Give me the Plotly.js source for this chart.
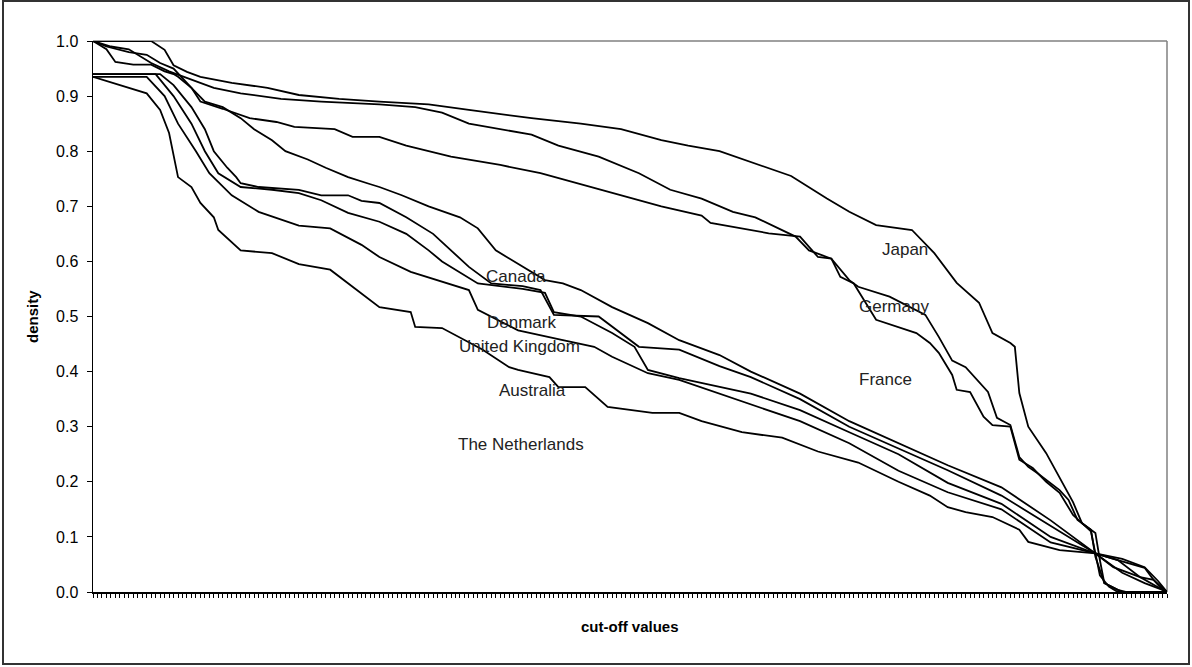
<!DOCTYPE html>
<html><head><meta charset="utf-8">
<script src="https://cdn.plot.ly/plotly-3.0.1.min.js"></script>
<style>
html,body{margin:0;padding:0;background:#fff;}
#chart{position:absolute;left:0;top:0;width:1192px;height:667px;}
#frame{position:absolute;left:2px;top:0px;width:1188px;height:665px;border:2px solid #333;box-sizing:border-box;pointer-events:none;}
</style>
</head><body>
<div id="chart"></div><div id="frame"></div>
<script>
// number of cut-off categories on the x axis (ticks)
const lastCategory = 240;
const yTicks = [0,0.1,0.2,0.3,0.4,0.5,0.6,0.7,0.8,0.9,1.0];

// breakpoints: category index and density
const japanX = [0,13,16,18,21,24,31,39,46,55,64,75,84,98,109,118,127,133,140,147,156,164,169,175,183,188,193,198,201,205,206,207,209,213,219,221,224,225,226,229,230,240];
const japanY = [1.0,1.0,0.984,0.956,0.944,0.935,0.924,0.915,0.902,0.895,0.89,0.885,0.875,0.86,0.85,0.84,0.82,0.81,0.80,0.78,0.755,0.714,0.69,0.666,0.657,0.615,0.561,0.525,0.47,0.452,0.445,0.361,0.30,0.252,0.163,0.125,0.107,0.058,0.016,0.004,0,0];

const germanyX = [0,4,8,13,17,22,27,33,42,51,64,72,78,84,91,98,104,113,122,129,136,143,148,157,160,165,169,171,178,186,189,192,195,198,200,202,205,207,209,211,214,216,218,220,223,224,226,229,231,240];
const germanyY = [1.0,0.99,0.985,0.96,0.945,0.93,0.915,0.905,0.895,0.89,0.885,0.88,0.87,0.85,0.84,0.83,0.81,0.79,0.76,0.73,0.714,0.69,0.68,0.645,0.62,0.605,0.566,0.554,0.536,0.503,0.463,0.42,0.408,0.381,0.363,0.316,0.303,0.245,0.227,0.216,0.198,0.185,0.167,0.131,0.113,0.064,0.016,0.004,0,0];

const franceX = [0,3,8,12,15,18,22,24,29,33,35,41,45,54,58,64,70,80,91,100,109,118,127,136,138,151,158,162,165,167,170,175,180,184,187,189,192,193,196,199,201,205,207,210,213,216,219,223,224,225,227,229,240];
const franceY = [1.0,0.99,0.98,0.975,0.96,0.95,0.915,0.89,0.877,0.865,0.86,0.853,0.844,0.84,0.826,0.826,0.81,0.79,0.775,0.76,0.74,0.72,0.70,0.683,0.67,0.651,0.645,0.608,0.605,0.572,0.56,0.494,0.481,0.47,0.452,0.434,0.394,0.367,0.363,0.318,0.303,0.30,0.24,0.225,0.20,0.18,0.14,0.11,0.07,0.03,0.01,0,0];

const canadaX = [0,3,5,9,13,16,18,19,22,25,29,33,36,40,43,48,52,57,62,64,69,75,82,86,90,95,101,105,109,116,124,131,140,147,158,169,180,191,203,214,224,230,235,238,240];
const canadaY = [1.0,0.985,0.962,0.957,0.957,0.945,0.94,0.935,0.915,0.89,0.88,0.86,0.84,0.82,0.80,0.785,0.77,0.753,0.74,0.735,0.72,0.70,0.68,0.66,0.62,0.595,0.566,0.56,0.548,0.517,0.488,0.457,0.43,0.40,0.36,0.31,0.27,0.23,0.19,0.13,0.07,0.06,0.045,0.02,0];

const denmarkX = [0,15,18,22,25,27,30,32,33,37,46,51,57,60,64,70,76,80,84,89,96,100,103,113,118,122,131,140,147,158,169,180,191,203,214,224,229,235,237,240];
const denmarkY = [0.94,0.94,0.92,0.88,0.84,0.80,0.77,0.753,0.742,0.735,0.73,0.72,0.72,0.71,0.706,0.68,0.65,0.62,0.59,0.56,0.555,0.548,0.503,0.50,0.47,0.445,0.44,0.41,0.39,0.35,0.30,0.26,0.221,0.175,0.12,0.07,0.058,0.044,0.022,0];

const ukX = [0,14,18,22,25,28,33,40,46,51,57,64,70,75,78,86,96,101,103,109,116,121,124,131,147,158,169,180,191,203,214,224,230,235,239,240];
const ukY = [0.94,0.94,0.90,0.85,0.80,0.76,0.735,0.73,0.724,0.711,0.688,0.672,0.65,0.62,0.60,0.56,0.55,0.543,0.508,0.50,0.47,0.445,0.403,0.388,0.36,0.33,0.29,0.25,0.198,0.16,0.10,0.07,0.035,0.016,0.004,0];

const australiaX = [0,12,16,19,23,26,31,37,46,53,60,64,71,78,84,86,95,105,112,116,124,131,147,158,169,180,191,203,214,224,228,234,239,240];
const australiaY = [0.935,0.935,0.90,0.85,0.80,0.76,0.72,0.69,0.665,0.66,0.63,0.608,0.581,0.563,0.548,0.512,0.475,0.457,0.445,0.427,0.397,0.385,0.34,0.31,0.27,0.22,0.181,0.15,0.09,0.07,0.045,0.027,0.004,0];

const netherlandsX = [0,4,8,12,15,17,19,22,24,27,28,33,40,46,53,57,64,71,72,78,87,93,95,102,104,110,115,125,131,136,145,154,162,171,180,187,191,195,201,207,209,216,224,229,234,237,239,240];
const netherlandsY = [0.935,0.925,0.915,0.905,0.875,0.833,0.753,0.735,0.706,0.68,0.657,0.62,0.615,0.595,0.585,0.56,0.517,0.508,0.481,0.479,0.44,0.408,0.403,0.39,0.372,0.372,0.336,0.325,0.325,0.31,0.29,0.28,0.255,0.235,0.20,0.175,0.154,0.145,0.136,0.113,0.091,0.076,0.07,0.058,0.027,0.022,0.004,0];

// country labels and where they sit (category index, density)
const labelNames = ["Japan","Germany","France","Canada","Denmark","United Kingdom","Australia","The Netherlands"];
const labelX = [181.5,179,177.2,94.5,95.7,95.2,98.1,95.7];
const labelY = [0.622,0.519,0.385,0.572,0.49,0.445,0.365,0.267];

const seriesList = [
  ["Japan",japanX,japanY],["Germany",germanyX,germanyY],["France",franceX,franceY],
  ["Canada",canadaX,canadaY],["Denmark",denmarkX,denmarkY],["United Kingdom",ukX,ukY],
  ["Australia",australiaX,australiaY],["The Netherlands",netherlandsX,netherlandsY]
];

const FONT = "Liberation Sans, Arial, sans-serif";
const traces = seriesList.map(s => ({
  type:"scatter", mode:"lines", name:s[0], x:s[1], y:s[2],
  line:{color:"#000", width:1.8}, hoverinfo:"skip", showlegend:false
}));

const annotations = labelNames.map((t,i) => ({
  x:labelX[i], y:labelY[i], xref:"x", yref:"y", text:t, showarrow:false,
  font:{family:FONT, size:17, color:"#222"}, xanchor:"center", yanchor:"middle"
}));
annotations.push({x:0.5, y:-0.0635, xref:"paper", yref:"paper", text:"<b>cut-off values</b>", showarrow:false,
  font:{family:FONT, size:15, color:"#000"}, xanchor:"center", yanchor:"middle"});
annotations.push({x:-0.0559, y:0.501, xref:"paper", yref:"paper", text:"<b>density</b>", showarrow:false, textangle:-90,
  font:{family:FONT, size:15, color:"#000"}, xanchor:"center", yanchor:"middle"});

const layout = {
  width:1192, height:667,
  margin:{l:93, r:25, t:41, b:75},
  paper_bgcolor:"#fff", plot_bgcolor:"#fff",
  font:{family:FONT, color:"#000"},
  showlegend:false,
  xaxis:{range:[0,lastCategory], tickmode:"linear", tick0:0, dtick:1, ticks:"outside", ticklen:4,
    tickwidth:1, tickcolor:"#000", showticklabels:false, showline:true, linecolor:"#000", linewidth:1.5,
    showgrid:false, zeroline:false, fixedrange:true},
  yaxis:{range:[0,1], tickmode:"array", tickvals:yTicks, ticktext:yTicks.map(v=>v.toFixed(1)), ticks:"outside", ticklen:5,
    tickwidth:1, tickcolor:"#000", showline:true, linecolor:"#000", linewidth:1.5, showgrid:false, zeroline:false,
    tickfont:{family:FONT, size:16, color:"#000"}, ticklabelstandoff:5, fixedrange:true},
  shapes:[
    {type:"line", xref:"paper", yref:"paper", x0:0, x1:1, y0:1, y1:1, line:{color:"#808080", width:1.5}, layer:"below"},
    {type:"line", xref:"paper", yref:"paper", x0:1, x1:1, y0:0, y1:1, line:{color:"#808080", width:1.5}, layer:"below"}
  ],
  annotations:annotations
};
Plotly.newPlot("chart", traces, layout, {displayModeBar:false, staticPlot:true});
</script>
</body></html>
